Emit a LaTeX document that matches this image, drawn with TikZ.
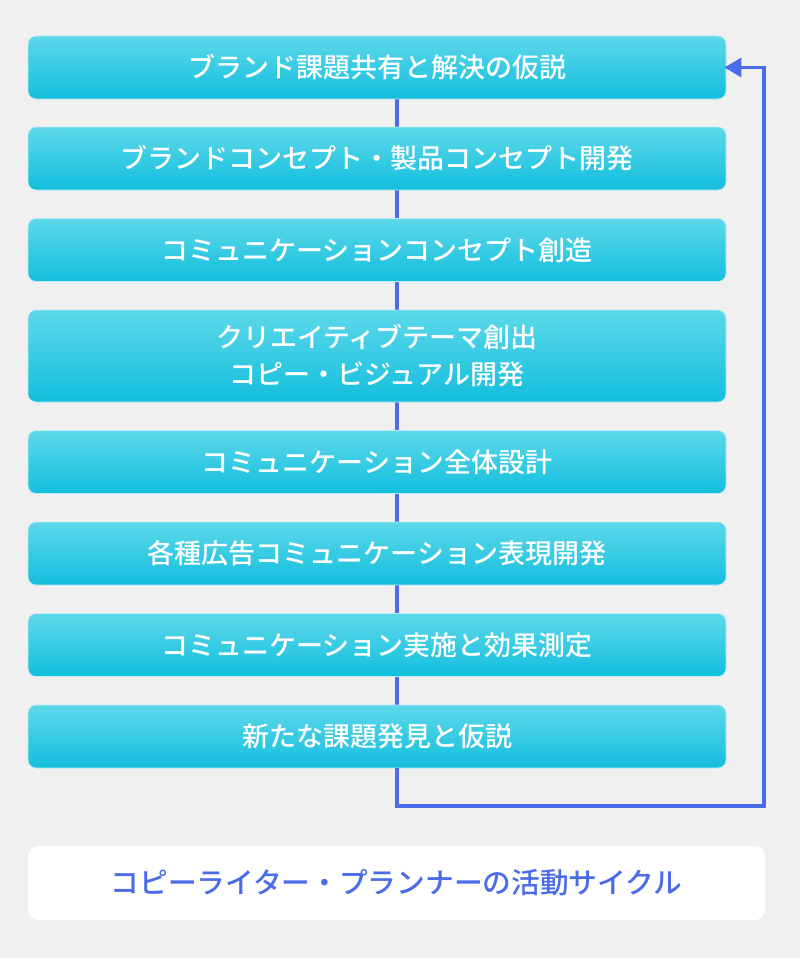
\documentclass[tikz,border=0pt]{standalone}
\usepackage{fontspec}
\setmainfont{Noto Sans CJK JP}[BoldFont={Noto Sans CJK JP Medium}]
\usetikzlibrary{arrows.meta,positioning,calc}
\definecolor{bgpage}{HTML}{F0F0F0}
\definecolor{cyantop}{HTML}{5DD8EA}
\definecolor{cyanbot}{HTML}{13BEDD}
\definecolor{cyanedge}{HTML}{BDEBF3}
\definecolor{loopblue}{HTML}{4A6CE8}

\begin{document}
\begin{tikzpicture}[x=1pt,y=-1pt,
  stage/.style={rounded corners=8pt,draw=cyanedge,line width=0.8pt,top color=cyantop,bottom color=cyanbot,
    minimum width=698pt,minimum height=63pt,align=center,text=white,font=\fontsize{27}{37}\selectfont\bfseries,inner sep=0pt},
  link/.style={loopblue,line width=3.2pt},
  back/.style={-{Triangle[length=17pt,width=19pt]},loopblue,line width=3.2pt,line join=miter}
]
\fill[bgpage] (0,0) rectangle (800,958);
\useasboundingbox (0,0) rectangle (800,958);

% stage line behind the boxes
\coordinate (spine) at (397,0);
\coordinate (corner) at (764,806);
\draw[link] (397,99) -- (397,806);

% stages
\node[stage] (s1) at (377,67.5) {ブランド課題共有と解決の仮説};
\node[stage] (s2) at (377,158.5) {ブランドコンセプト・製品コンセプト開発};
\node[stage] (s3) at (377,250) {コミュニケーションコンセプト創造};
\node[stage,minimum height=92pt] (s4) at (377,356) {クリエイティブテーマ創出\\コピー・ビジュアル開発};
\node[stage] (s5) at (377,462) {コミュニケーション全体設計};
\node[stage] (s6) at (377,553.5) {各種広告コミュニケーション表現開発};
\node[stage] (s7) at (377,645) {コミュニケーション実施と効果測定};
\node[stage] (s8) at (377,736.5) {新たな課題発見と仮説};

% loop back to the first stage
\draw[back,shorten >=-2pt] (s8.south -| spine) |- (corner) |- (s1.east);

% caption
\node[fill=white,rounded corners=10pt,minimum width=737pt,minimum height=74pt,inner sep=0pt,
  text=loopblue,font=\fontsize{28.7}{34}\selectfont\bfseries] (cycle) at (396.5,883) {コピーライター・プランナーの活動サイクル};
\end{tikzpicture}
\end{document}
